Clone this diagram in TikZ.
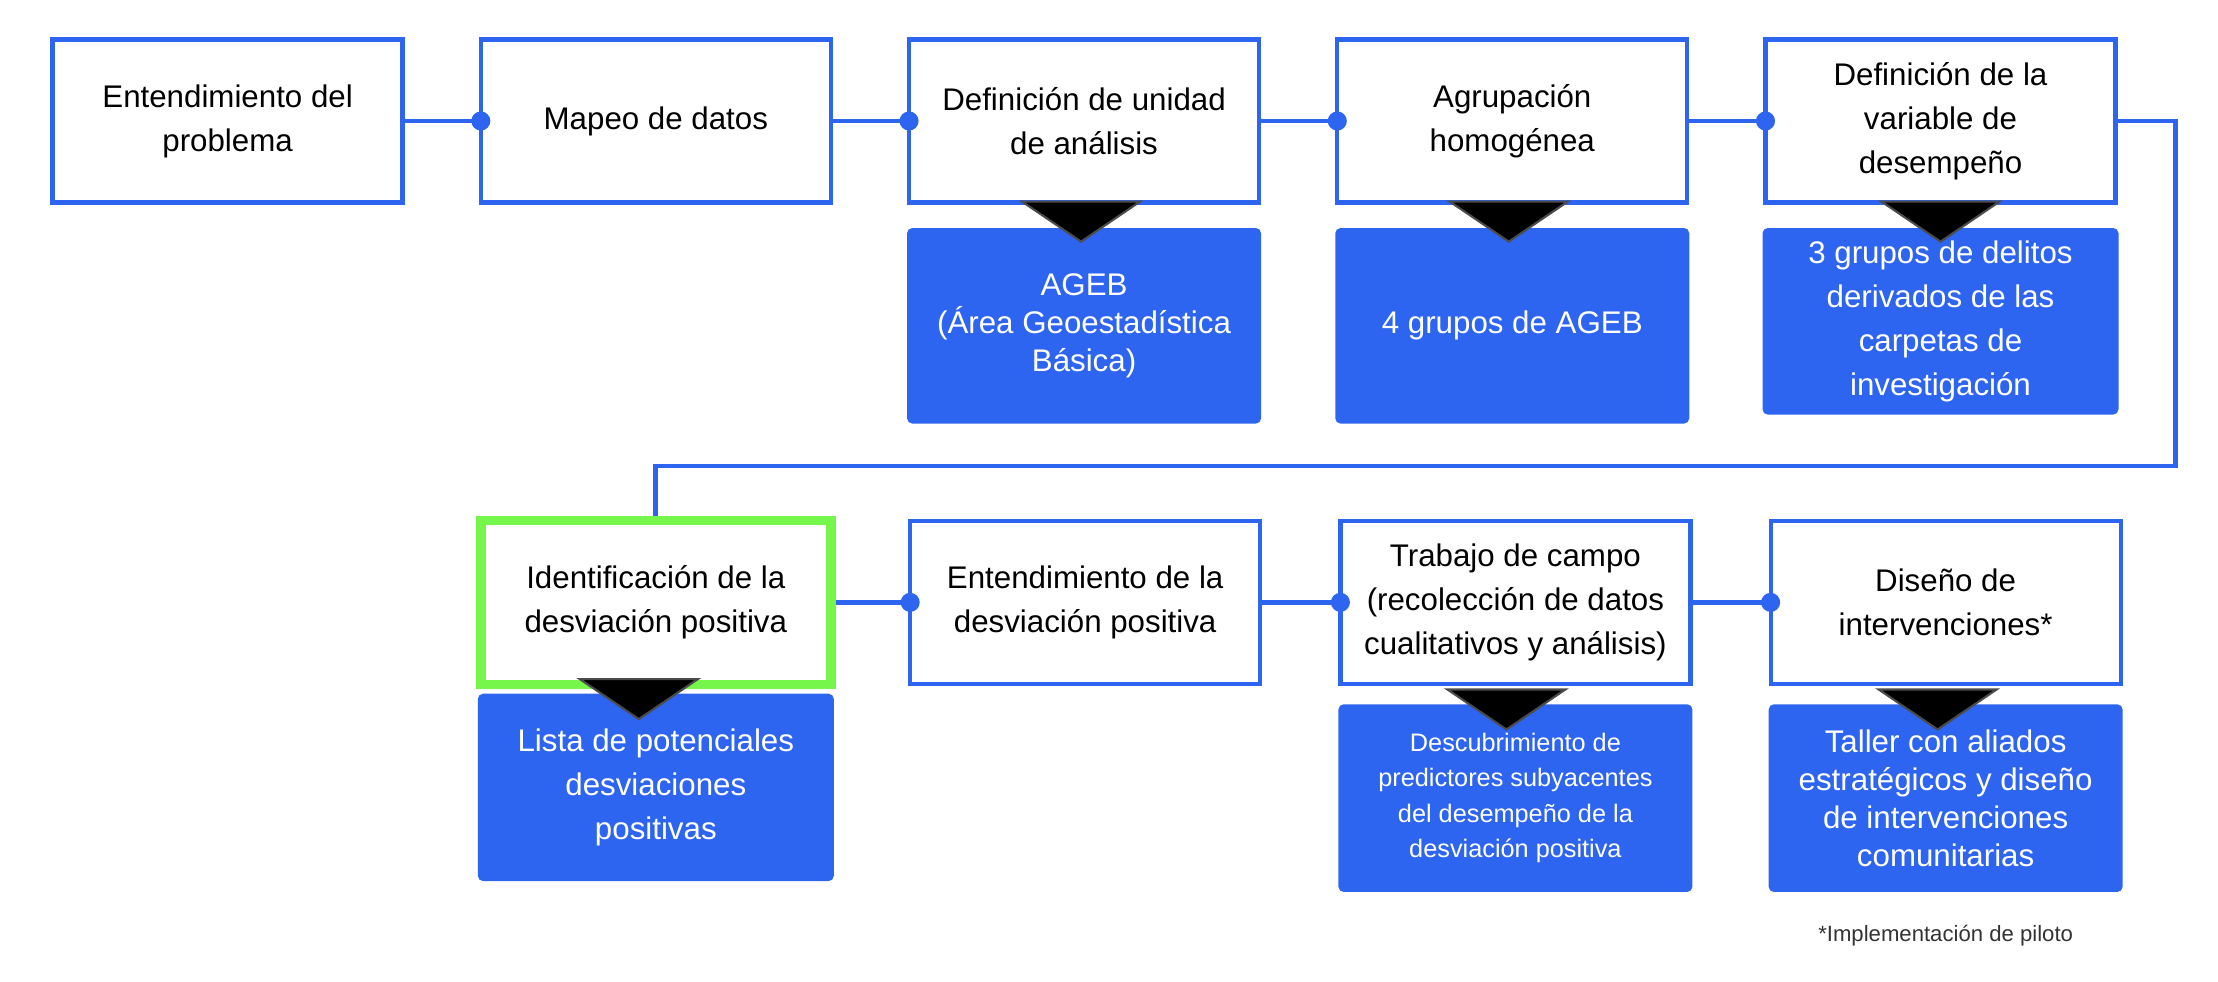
\documentclass[tikz,border=0pt]{standalone}
\usepackage{fontspec}
\setmainfont{Liberation Sans}
\usepackage{xcolor}
\usetikzlibrary{arrows.meta,positioning,calc}
\definecolor{flowblue}{RGB}{46,101,240}
\definecolor{flowgreen}{RGB}{118,246,74}

\begin{document}
\begin{tikzpicture}[
    node distance = 0.74cm,
    base_block/.style = {rectangle, align=center, minimum width=3.5cm, minimum height=1.63cm, font=\fontsize{8.9}{12.5}\selectfont},
    stage_block/.style = {base_block, draw=flowblue, line width=1.2pt, fill=white},
    focus_block/.style = {base_block, draw=flowgreen, line width=2.7pt, fill=white, minimum height=1.64cm},
    out_block/.style = {base_block, fill=flowblue, text=white, outer sep=0pt, rounded corners=1.5pt, minimum width=3.54cm},
    tight/.style = {font=\fontsize{8.9}{10.8}\selectfont},
    small_text/.style = {font=\fontsize{7.2}{10.1}\selectfont},
    note_text/.style = {inner sep=0pt, font=\fontsize{6.3}{7.5}\selectfont, text=black!80},
    link/.style = {draw=flowblue, line width=1.4pt},
    dot_link/.style = {link, -{Circle[length=5.4pt]}, shorten >=-3.3pt},
    pointer/.style = {fill=black, draw=black!70, line width=0.6pt, line join=miter}
]
\useasboundingbox (0,0) rectangle (22.18,-9.82);

% Row 1
\node [stage_block] (s1) at (2.276,-1.21) {Entendimiento del\\problema};
\node [stage_block, right=of s1] (s2) {Mapeo de datos};
\node [stage_block, right=of s2] (s3) {Definición de unidad\\de análisis};
\node [stage_block, right=of s3] (s4) {Agrupación\\homogénea};
\node [stage_block, right=of s4] (s5) {Definición de la\\variable de\\desempeño};

% Row 1 results
\node [out_block, tight, minimum height=1.956cm, below=0.234cm of s3] (o3) {AGEB\\(Área Geoestadística\\Básica)};
\node [out_block, minimum height=1.956cm, below=0.234cm of s4] (o4) {4 grupos de AGEB};
\node [out_block, minimum height=1.866cm, minimum width=3.56cm, below=0.234cm of s5] (o5) {3 grupos de delitos\\derivados de las\\carpetas de\\investigación};

% Row 2
\node [focus_block, below=3.11cm of s2] (s6) {Identificación de la\\desviación positiva};
\node [stage_block, right=0.725cm of s6] (s7) {Entendimiento de la\\desviación positiva};
\node [stage_block, right=0.76cm of s7] (s8) {Trabajo de campo\\(recolección de datos\\cualitativos y análisis)};
\node [stage_block, right=0.76cm of s8] (s9) {Diseño de\\intervenciones*};

% Row 2 results
\node [out_block, minimum height=1.874cm, minimum width=3.56cm, below=0.046cm of s6] (o6) {Lista de potenciales\\desviaciones\\positivas};
\node [out_block, small_text, minimum height=1.877cm, below=0.183cm of s8] (o8) {Descubrimiento de\\predictores subyacentes\\del desempeño de la\\desviación positiva};
\node [out_block, tight, minimum height=1.877cm, below=0.183cm of s9] (o9) {Taller con aliados\\estratégicos y diseño\\de intervenciones\\comunitarias};

\node [note_text, below=0.33cm of o9] (fn) {*Implementación de piloto};

% Connectors
\draw [dot_link] (s1.east) -- (s2.west);
\draw [dot_link] (s2.east) -- (s3.west);
\draw [dot_link] (s3.east) -- (s4.west);
\draw [dot_link] (s4.east) -- (s5.west);
\coordinate (bend) at (21.75,-4.66);
\draw [link] (s5.east) -| (bend) -| (s6.north);
\draw [dot_link] (s6.east) -- (s7.west);
\draw [dot_link] (s7.east) -- (s8.west);
\draw [dot_link] (s8.east) -- (s9.west);

% Pointers from stage to result
\foreach \b/\dx/\dy in {s3/-0.03/0.03, s4/-0.035/0.03, s5/0/0.03, s6/-0.17/0.1, s8/-0.09/-0.035, s9/-0.08/-0.035}
    \filldraw [pointer] ($(\b.south)+(\dx-0.59,\dy)$) -- ($(\b.south)+(\dx+0.59,\dy)$) -- ($(\b.south)+(\dx,\dy-0.40)$) -- cycle;

\end{tikzpicture}
\end{document}
